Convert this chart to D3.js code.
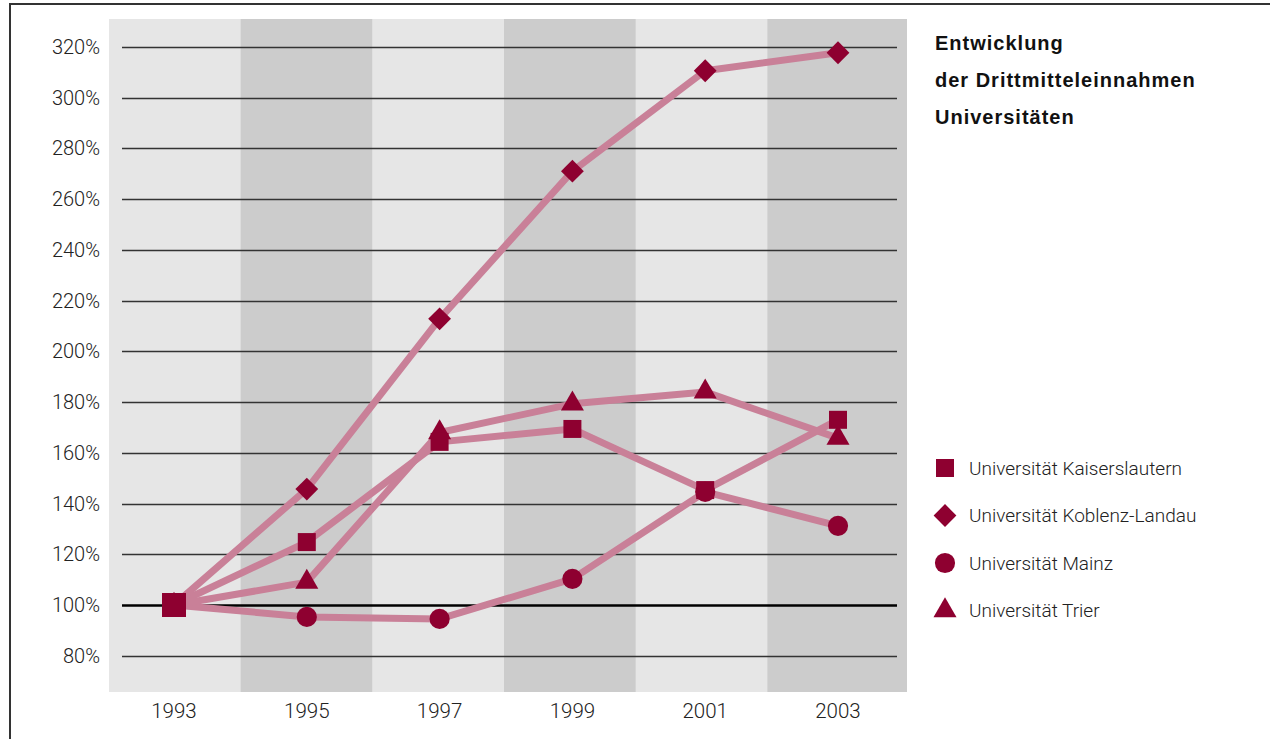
<!DOCTYPE html>
<html>
<head>
<meta charset="utf-8">
<script src="https://cdn.jsdelivr.net/npm/d3@7"></script>
<style>
  body { margin: 0; background: #fff; }
  svg { display: block; font-family: Roboto, "Liberation Sans", sans-serif; }
</style>
</head>
<body>
<div id="chart"></div>
<script>
var years = ["1993", "1995", "1997", "1999", "2001", "2003"]
var yTicks = [80, 100, 120, 140, 160, 180, 200, 220, 240, 260, 280, 300, 320]
var titleLines = ["Entwicklung", "der Drittmitteleinnahmen", "Universitäten"]

var kaiserslautern = [100, 124.8, 164.3, 169.4, 145.3, 173]
var koblenzLandau = [100, 145.7, 212.8, 271, 310.6, 317.7]
var mainz = [100, 95.3, 94.5, 110.3, 144.6, 131.2]
var trier = [100, 109, 168, 179.3, 184, 165.8]

var seriesNames = ["Universität Kaiserslautern", "Universität Koblenz-Landau", "Universität Mainz", "Universität Trier"]
var seriesShapes = ["square", "diamond", "circle", "triangle"]

function chart() {
    var width = 1270
    var height = 739

    var series = [
        { name: seriesNames[0], shape: seriesShapes[0], values: kaiserslautern },
        { name: seriesNames[1], shape: seriesShapes[1], values: koblenzLandau },
        { name: seriesNames[2], shape: seriesShapes[2], values: mainz },
        { name: seriesNames[3], shape: seriesShapes[3], values: trier }
    ]

    var lineColor = "#c98098"
    var markColor = "#8e0030"

    // bands for the grey columns, points for the data
    var band = d3.scaleBand().domain(years).range([109, 899])
    var x = d3.scalePoint().domain(years).range([174, 838])
    var y = d3.scaleLinear().domain([65.7, 331]).range([692, 19])

    var svg = d3.select("#chart").append("svg")
        .attr("width", width)
        .attr("height", height)

    // frame (only left and top edges show)
    svg.append("path")
        .attr("d", "M10,760 L10,4 L1280,4")
        .attr("fill", "none")
        .attr("stroke", "#333")
        .attr("stroke-width", 2)

    // alternating column bands, last one runs to the plot edge
    svg.append("g").selectAll("rect")
        .data(years)
        .join("rect")
        .attr("x", d => band(d))
        .attr("y", 19)
        .attr("width", (d, i) => i == years.length - 1 ? 907 - band(d) : band.bandwidth() + 0.5)
        .attr("height", 692 - 19)
        .attr("fill", (d, i) => i % 2 ? "#cccccc" : "#e6e6e6")

    // grid lines
    svg.append("g").selectAll("line")
        .data(yTicks)
        .join("line")
        .attr("x1", 122)
        .attr("x2", 897)
        .attr("y1", d => Math.round(y(d)) + 0.5)
        .attr("y2", d => Math.round(y(d)) + 0.5)
        .attr("stroke", d => d == 100 ? "#000" : "#333")
        .attr("stroke-width", d => d == 100 ? 2.5 : 1.3)

    // y labels
    svg.append("g").selectAll("text")
        .data(yTicks)
        .join("text")
        .attr("x", 100)
        .attr("y", d => y(d))
        .attr("dy", "0.35em")
        .attr("text-anchor", "end")
        .attr("font-size", 20)
        .attr("font-weight", 300)
        .attr("fill", "#222")
        .text(d => d + "%")

    // x labels
    svg.append("g").selectAll("text")
        .data(years)
        .join("text")
        .attr("x", d => x(d))
        .attr("y", 718)
        .attr("text-anchor", "middle")
        .attr("font-size", 20.5)
        .attr("font-weight", 300)
        .attr("fill", "#222")
        .text(d => d)

    var line = d3.line()
        .x((d, i) => x(years[i]))
        .y(d => y(d))

    svg.append("g").selectAll("path")
        .data(series)
        .join("path")
        .attr("d", d => line(d.values))
        .attr("fill", "none")
        .attr("stroke", lineColor)
        .attr("stroke-width", 7)
        .attr("stroke-linejoin", "round")

    function symbolPath(shape, big) {
        if (shape == "square") return d3.symbol(d3.symbolSquare, big ? 576 : 324)()
        if (shape == "diamond") return d3.symbol(d3.symbolSquare, 260)()
        if (shape == "circle") return d3.symbol(d3.symbolCircle, 320)()
        return d3.symbol(d3.symbolTriangle, 230)()
    }

    // markers, square drawn last so it sits on top at 1993
    var order = [2, 3, 1, 0]
    order.forEach(k => {
        var s = series[k]
        svg.append("g").selectAll("path")
            .data(s.values)
            .join("path")
            .attr("d", (d, i) => symbolPath(s.shape, i == 0))
            .attr("transform", (d, i) => "translate(" + x(years[i]) + "," + y(d) + ")" + (s.shape == "diamond" ? " rotate(45)" : ""))
            .attr("fill", markColor)
    })

    // title
    svg.append("g").selectAll("text")
        .data(titleLines)
        .join("text")
        .attr("x", 935)
        .attr("y", (d, i) => 50 + i * 37)
        .attr("font-family", "'Liberation Sans', Arial, sans-serif")
        .attr("font-size", 20)
        .attr("font-weight", 700)
        .attr("letter-spacing", 1)
        .attr("fill", "#111")
        .text(d => d)

    // legend
    var legend = svg.append("g").selectAll("g")
        .data(series)
        .join("g")
        .attr("transform", (d, i) => "translate(945," + (468 + i * 47.5) + ")")

    legend.append("path")
        .attr("d", d => symbolPath(d.shape, false))
        .attr("transform", d => d.shape == "diamond" ? "rotate(45)" : "")
        .attr("fill", markColor)

    legend.append("text")
        .attr("x", 24)
        .attr("dy", "0.35em")
        .attr("font-size", 19)
        .attr("font-weight", 300)
        .attr("fill", "#222")
        .text(d => d.name)
}
chart()
</script>
</body>
</html>
